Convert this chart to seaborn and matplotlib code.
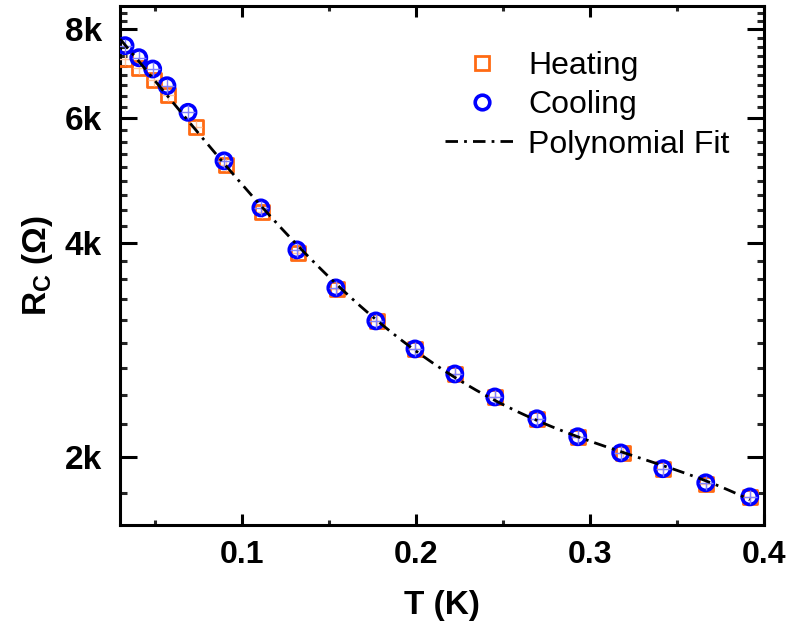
import numpy as np
import matplotlib
matplotlib.use("Agg")
import matplotlib.pyplot as plt
import seaborn as sns
from matplotlib.ticker import FixedLocator, NullFormatter
from matplotlib.lines import Line2D

# -------------------------
# DATA
# -------------------------
T_heat = [0.0326, 0.0405, 0.0491, 0.0571, 0.0736, 0.0906, 0.1113, 0.1320, 0.1544, 0.1774,
          0.1993, 0.2222, 0.2455, 0.2694, 0.2932, 0.3188, 0.3418, 0.3665, 0.3918]
R_heat = [7259, 7063, 6789, 6466, 5833, 5154, 4425, 3873, 3446, 3106,
          2836, 2615, 2427, 2261, 2133, 2024, 1923, 1832, 1755]

T_cool = [0.0326, 0.0405, 0.0485, 0.0567, 0.0688, 0.0895, 0.1107, 0.1314, 0.1538, 0.1768,
          0.1993, 0.2222, 0.2452, 0.2694, 0.2929, 0.3176, 0.3418, 0.3665, 0.3918]
R_cool = [7586, 7296, 7033, 6662, 6111, 5221, 4482, 3911, 3457, 3106,
          2836, 2615, 2427, 2261, 2133, 2024, 1923, 1837, 1755]

x_ticks = [0.1, 0.2, 0.3, 0.4]
x_minor = [0.05, 0.15, 0.25, 0.35]
y_ticks = [2000, 4000, 6000, 8000]
y_ticklabels = ["2k", "4k", "6k", "8k"]

orange = "#FF6A13"
blue = "#0000FF"

sns.set_theme(style="ticks")
plt.rcParams["font.family"] = ["Liberation Sans", "DejaVu Sans"]
plt.rcParams["mathtext.fontset"] = "custom"
plt.rcParams["mathtext.rm"] = "Liberation Sans:bold"
plt.rcParams["text.color"] = "black"
plt.rcParams["axes.labelcolor"] = "black"

fig = plt.figure(figsize=(7.9, 6.3), dpi=100)
ax = fig.add_axes([120 / 790, 1 - 525 / 630, 644 / 790, 519 / 630])

# -------------------------
# POLYNOMIAL FIT (log R vs T)
# -------------------------
T_all = np.array(T_heat + T_cool)
R_all = np.array(R_heat + R_cool)
coef = np.polyfit(T_all, np.log10(R_all), 4)
T_fit = np.linspace(0.0297, max(T_all), 300)
R_fit = 10 ** np.polyval(coef, T_fit)

# -------------------------
# POINTS
# -------------------------
sns.scatterplot(x=T_heat, y=R_heat, marker="s", s=100, facecolor="none",
                edgecolor=orange, linewidth=2.0, ax=ax, zorder=3)
ax.scatter(T_heat, R_heat, marker="+", s=85, color="#FFC49E", linewidth=1.0, zorder=3)

sns.scatterplot(x=T_cool, y=R_cool, marker="o", s=120, facecolor="none",
                edgecolor=blue, linewidth=2.6, ax=ax, zorder=4)
ax.scatter(T_cool, R_cool, marker="+", s=95, color="#8080FF", linewidth=1.0, zorder=4)

line, = ax.plot(T_fit, R_fit, color="black", linewidth=2.0, zorder=5,
                dashes=(4.5, 2.2, 1, 2.2))

ax.set_yscale("log")
ax.set_xlim(0.0297, 0.4)
ax.set_ylim(1602, 8628)

ax.xaxis.set_major_locator(FixedLocator(x_ticks))
ax.xaxis.set_minor_locator(FixedLocator(x_minor))
ax.set_xticklabels([f"{t:.1f}" for t in x_ticks])

ax.yaxis.set_major_locator(FixedLocator(y_ticks))
ax.set_yticklabels(y_ticklabels)
step = 2000 / 9
minor_y = [k * step for k in range(1, 40) if k % 9 != 0 and 1602 < k * step < 8628]
ax.yaxis.set_minor_locator(FixedLocator(minor_y))
ax.yaxis.set_minor_formatter(NullFormatter())

for lab in ax.get_xticklabels():
    lab.set_fontweight("bold")
    lab.set_fontsize(23)
for lab in ax.get_yticklabels():
    lab.set_fontweight("bold")
    lab.set_fontsize(24)

ax.tick_params(axis="x", which="major", direction="in", length=8, width=2.2,
               top=True, bottom=True, pad=11, colors="black")
ax.tick_params(axis="x", which="minor", direction="in", length=3.6, width=2.2,
               top=True, bottom=True)
ax.tick_params(axis="y", which="major", direction="in", length=12, width=2.2,
               left=True, right=True, pad=13, colors="black")
ax.tick_params(axis="y", which="minor", direction="in", length=5, width=2.2,
               left=True, right=True)

for sp in ax.spines.values():
    sp.set_visible(True)
    sp.set_linewidth(2.2)
    sp.set_color("black")

ax.set_xlabel("T (K)", fontsize=24, fontweight="bold", labelpad=14)
ax.set_ylabel(r"R$_\mathregular{C}$ ($\Omega$)", fontsize=24, fontweight="bold", labelpad=7)

# -------------------------
# LEGEND
# -------------------------
hh = Line2D([], [], marker="s", markersize=10, markerfacecolor="none",
            markeredgecolor=orange, markeredgewidth=2.0, linestyle="none")
hc = Line2D([], [], marker="o", markersize=10.5, markerfacecolor="none",
            markeredgecolor=blue, markeredgewidth=2.6, linestyle="none")
ax.legend([hh, hc, line], ["Heating", "Cooling", "Polynomial Fit"],
          loc="upper left", bbox_to_anchor=((445 - 120) / 644, (525 - 51) / 519),
          frameon=False, fontsize=23, handlelength=2.3, handletextpad=0.3,
          labelspacing=0.29, borderpad=0, borderaxespad=0)

plt.savefig("out.png", dpi=100)
